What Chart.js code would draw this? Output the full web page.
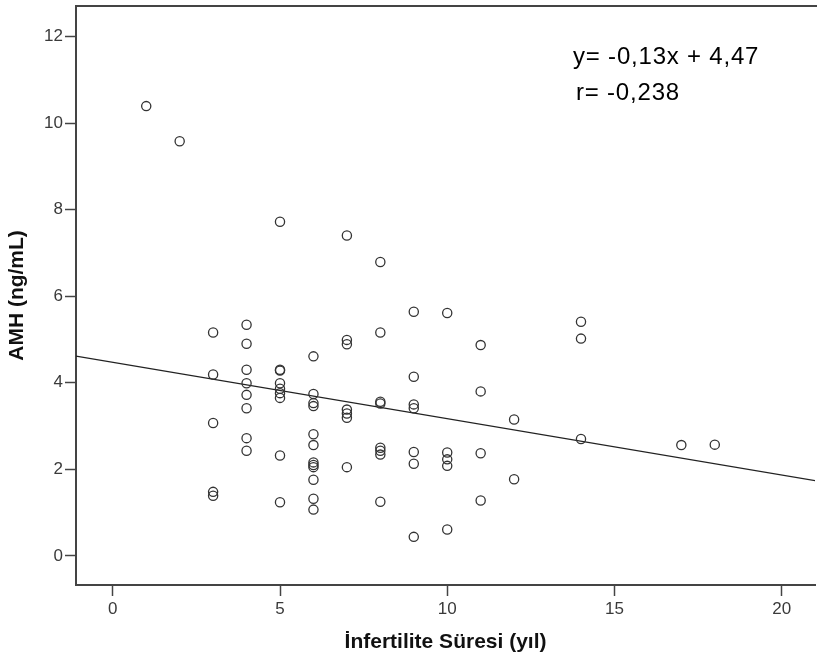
<!DOCTYPE html>
<html>
<head>
<meta charset="utf-8">
<script src="https://cdn.jsdelivr.net/npm/chart.js@4/dist/chart.umd.min.js"></script>
<style>
  html, body { margin: 0; padding: 0; background: #fff; overflow: hidden; }
  canvas { display: block; }
</style>
</head>
<body>
<canvas id="c" width="821" height="663" style="width:821px;height:663px"></canvas>
<script>
// Infertility duration (years) and AMH (ng/mL)
const infertYears = [
  1,
  2,
  3, 3, 3, 3, 3,
  4, 4, 4, 4, 4, 4, 4, 4,
  5, 5, 5, 5, 5, 5, 5, 5, 5,
  6, 6, 6, 6, 6, 6, 6, 6, 6, 6, 6, 6,
  7, 7, 7, 7, 7, 7, 7,
  8, 8, 8, 8, 8, 8, 8, 8,
  9, 9, 9, 9, 9, 9, 9,
  10, 10, 10, 10, 10,
  11, 11, 11, 11,
  12, 12,
  14, 14, 14,
  17,
  18
];
const amhValues = [
  10.39,
  9.58,
  5.16, 4.19, 3.07, 1.48, 1.39,
  5.34, 4.90, 4.30, 3.99, 3.72, 3.41, 2.72, 2.43,
  7.72, 4.30, 4.28, 3.99, 3.86, 3.76, 3.65, 2.32, 1.24,
  4.61, 3.74, 3.53, 3.46, 2.81, 2.56, 2.16, 2.10, 2.05, 1.76, 1.32, 1.07,
  7.40, 4.99, 4.89, 3.38, 3.29, 3.19, 2.05,
  6.79, 5.16, 3.56, 3.52, 2.50, 2.43, 2.34, 1.25,
  5.64, 4.14, 3.50, 3.41, 2.40, 2.13, 0.44,
  5.61, 2.39, 2.23, 2.08, 0.61,
  4.87, 3.80, 2.37, 1.28,
  3.15, 1.77,
  5.41, 5.02, 2.70,
  2.56,
  2.57
];
// Regression: y = -0,13x + 4,47
const fitSlope = -0.13;
const fitIntercept = 4.47;
const xTickValues = [0, 5, 10, 15, 20];
const yTickValues = [0, 2, 4, 6, 8, 10, 12];
const xRange = [-1.1, 21];
const yRange = [-0.672, 12.705];
const annotationLines = ['y= -0,13x + 4,47', 'r= -0,238'];
const xTitle = 'İnfertilite Süresi (yıl)';
const yTitle = 'AMH (ng/mL)';

const FONT = "'Liberation Sans', Arial, sans-serif";
const AXIS_COLOR = '#444';

const scatterData = infertYears.map((x, i) => ({ x: x, y: amhValues[i] }));
const fitData = xRange.map(x => ({ x: x, y: fitIntercept + fitSlope * x }));

const framePlugin = {
  id: 'frameAndText',
  afterDraw(chart) {
    const { ctx, chartArea } = chart;
    ctx.save();
    ctx.strokeStyle = AXIS_COLOR;
    ctx.lineWidth = 2;
    ctx.beginPath();
    ctx.moveTo(chartArea.left - 1, chartArea.top);
    ctx.lineTo(chartArea.right + 2, chartArea.top);
    ctx.stroke();
    ctx.fillStyle = '#000';
    ctx.font = '24px ' + FONT;
    if ('letterSpacing' in ctx) ctx.letterSpacing = '0.8px';
    ctx.textBaseline = 'middle';
    ctx.textAlign = 'left';
    ctx.fillText(annotationLines[0], 573, 57);
    ctx.fillText(annotationLines[1], 576, 93);
    ctx.restore();
  }
};

new Chart(document.getElementById('c'), {
  type: 'scatter',
  data: {
    datasets: [
      {
        type: 'line',
        data: fitData,
        borderColor: '#222',
        borderWidth: 1.3,
        pointRadius: 0,
        fill: false,
        order: 2
      },
      {
        data: scatterData,
        pointStyle: 'circle',
        pointRadius: 4.6,
        borderWidth: 1.3,
        borderColor: '#333',
        backgroundColor: 'rgba(0,0,0,0)',
        order: 1
      }
    ]
  },
  options: {
    responsive: false,
    animation: false,
    devicePixelRatio: 1,
    layout: { padding: { top: 2, right: 0, bottom: 0, left: 0 } },
    plugins: {
      legend: { display: false },
      tooltip: { enabled: false }
    },
    scales: {
      x: {
        type: 'linear',
        position: 'bottom',
        min: xRange[0],
        max: xRange[1],
        afterBuildTicks(scale) { scale.ticks = xTickValues.map(v => ({ value: v })); },
        afterFit(scale) { scale.height = 78; scale.paddingLeft = 0; scale.paddingRight = 0; },
        ticks: {
          color: '#3a3a3a',
          font: { family: FONT, size: 17 },
          padding: 3,
          maxRotation: 0,
          autoSkip: false
        },
        grid: {
          display: true,
          drawOnChartArea: false,
          drawTicks: true,
          tickLength: 11,
          tickWidth: 1.5,
          tickColor: AXIS_COLOR,
          color: AXIS_COLOR
        },
        border: { display: true, color: AXIS_COLOR, width: 2 },
        title: {
          display: true,
          text: xTitle,
          color: '#111',
          font: { family: FONT, size: 21, weight: 'bold' },
          padding: { top: 0, bottom: 8 }
        }
      },
      y: {
        type: 'linear',
        position: 'left',
        min: yRange[0],
        max: yRange[1],
        afterBuildTicks(scale) { scale.ticks = yTickValues.map(v => ({ value: v })); },
        afterFit(scale) { scale.width = 76; scale.paddingTop = 0; scale.paddingBottom = 0; },
        ticks: {
          color: '#3a3a3a',
          font: { family: FONT, size: 17 },
          padding: 2,
          autoSkip: false
        },
        grid: {
          display: true,
          drawOnChartArea: false,
          drawTicks: true,
          tickLength: 11,
          tickWidth: 1.5,
          tickColor: AXIS_COLOR,
          color: AXIS_COLOR
        },
        border: { display: true, color: AXIS_COLOR, width: 2 },
        title: {
          display: true,
          text: yTitle,
          color: '#111',
          font: { family: FONT, size: 21, weight: 'bold' },
          padding: { top: 5, bottom: 0 }
        }
      }
    }
  },
  plugins: [framePlugin]
});
</script>
</body>
</html>
